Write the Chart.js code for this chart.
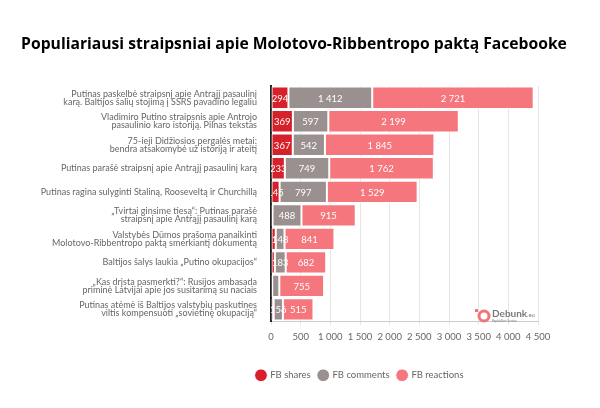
<!DOCTYPE html>
<html>
<head>
<meta charset="utf-8">
<script src="https://cdn.jsdelivr.net/npm/chart.js@4/dist/chart.umd.min.js"></script>
<style>
  html, body { margin: 0; padding: 0; background: #fff; }
  #wrap { width: 600px; height: 408px; position: relative; }
</style>
</head>
<body>
<div id="wrap"><canvas id="myChart" width="600" height="408"></canvas></div>
<script>
const chartTitle = "Populiariausi straipsniai apie Molotovo-Ribbentropo paktą Facebooke";
const articles = [
  ["Putinas paskelbė straipsnį apie Antrąjį pasaulinį", "karą. Baltijos šalių stojimą į SSRS pavadino legaliu"],
  ["Vladimiro Putino straipsnis apie Antrojo", "pasaulinio karo istoriją. Pilnas tekstas"],
  ["75-ieji Didžiosios pergalės metai:", "bendra atsakomybė už istoriją ir ateitį"],
  "Putinas parašė straipsnį apie Antrąjį pasaulinį karą",
  "Putinas ragina sulyginti Staliną, Rooseveltą ir Churchillą",
  ["„Tvirtai ginsime tiesą“: Putinas parašė", "straipsnį apie Antrąjį pasaulinį karą"],
  ["Valstybės Dūmos prašoma panaikinti", "Molotovo-Ribbentropo paktą smerkiantį dokumentą"],
  "Baltijos šalys laukia „Putino okupacijos“",
  ["„Kas drįsta pasmerkti?“: Rusijos ambasada", "priminė Latvijai apie jos susitarimą su naciais"],
  ["Putinas atėmė iš Baltijos valstybių paskutines", "viltis kompensuoti „sovietinę okupaciją“"]
];
const fbShares = [294, 369, 367, 233, 145, 25, 80, 65, 20, 45];
const fbComments = [1412, 597, 542, 749, 797, 488, 148, 183, 120, 156];
const fbReactions = [2721, 2199, 1845, 1762, 1529, 915, 841, 682, 755, 515];
const xTicks = [0, 500, 1000, 1500, 2000, 2500, 3000, 3500, 4000, 4500];

const fmt = (v) => String(v).replace(/\B(?=(\d{3})+(?!\d))/g, " ");

// white value labels inside the bar segments
const valueLabels = {
  id: "valueLabels",
  afterDatasetsDraw(chart) {
    const ctx = chart.ctx;
    const area = chart.chartArea;
    ctx.save();
    ctx.beginPath();
    ctx.rect(area.left, area.top, area.right - area.left, area.bottom - area.top);
    ctx.clip();
    ctx.fillStyle = "#fff";
    ctx.font = "9.5px Lato";
    ctx.textAlign = "center";
    ctx.textBaseline = "middle";
    chart.data.datasets.forEach((ds, i) => {
      chart.getDatasetMeta(i).data.forEach((bar, j) => {
        const v = ds.data[j];
        if (v < 140) return;
        const x = (bar.x + bar.base) / 2;
        ctx.fillText(fmt(v), x, bar.y + 1);
      });
    });
    ctx.restore();
  }
};

// title, legend shift and the small logo
const extras = {
  id: "extras",
  beforeDraw(chart) {
    const lg = chart.legend;
    lg.left = 120;
    lg.right = 600;
  },
  afterDraw(chart) {
    const ctx = chart.ctx;
    ctx.save();
    ctx.fillStyle = "#000";
    ctx.font = "bold 17px 'Open Sans'";
    const w = ctx.measureText(chartTitle).width;
    const size = Math.min(17, 17 * 546 / w);
    ctx.font = "bold " + size.toFixed(2) + "px 'Open Sans'";
    ctx.textAlign = "center";
    ctx.textBaseline = "middle";
    ctx.fillText(chartTitle, 294, 45);

    ctx.textAlign = "left";
    ctx.fillStyle = "#f2737a";
    ctx.fillRect(475, 309, 3, 3);
    ctx.beginPath();
    ctx.lineWidth = 3;
    ctx.strokeStyle = "#f2737a";
    ctx.arc(484, 316, 5, 0, Math.PI * 2);
    ctx.stroke();
    ctx.fillStyle = "#7a7a7a";
    ctx.font = "bold 10px Lato";
    ctx.fillText("Debunk", 492, 314);
    ctx.font = "6px Lato";
    ctx.fillText(".eu", 527, 315);
    ctx.font = "3px Lato";
    ctx.fillText("Rapid Alert Service", 492, 321);
    ctx.restore();
  }
};

new Chart(document.getElementById("myChart"), {
  type: "bar",
  data: {
    labels: articles,
    datasets: [
      { label: "FB shares", data: fbShares, backgroundColor: "#d6202a" },
      { label: "FB comments", data: fbComments, backgroundColor: "#9b9090" },
      { label: "FB reactions", data: fbReactions, backgroundColor: "#f5767d" }
    ].map((d) => Object.assign(d, {
      borderColor: "#fff",
      borderWidth: 1,
      borderSkipped: false,
      categoryPercentage: 0.95,
      barPercentage: 1
    }))
  },
  options: {
    indexAxis: "y",
    responsive: false,
    animation: false,
    layout: { padding: { top: 86, right: 62, bottom: 18, left: 0 } },
    scales: {
      x: {
        stacked: true,
        min: 0,
        max: 4500,
        afterBuildTicks: (s) => { s.ticks = xTicks.map((v) => ({ value: v })); },
        afterFit: (s) => { s.height += 14; },
        ticks: {
          color: "#666",
          font: { family: "Lato", size: 9.5 },
          padding: 6,
          maxRotation: 0,
          autoSkip: false,
          callback: (v) => fmt(v)
        },
        grid: { color: "#e6e6e6", tickLength: 4 },
        border: { color: "#ccc" }
      },
      y: {
        stacked: true,
        afterFit: (s) => { s.width = 271; },
        ticks: {
          color: "#666",
          font: { family: "Lato", size: 9, lineHeight: 0.9 },
          padding: 6
        },
        grid: { display: false },
        border: { display: true, color: "#222", width: 2 }
      }
    },
    plugins: {
      title: { display: false },
      legend: {
        position: "bottom",
        labels: {
          usePointStyle: true,
          pointStyle: "circle",
          boxWidth: 9,
          boxHeight: 9,
          padding: 8,
          color: "#666",
          font: { family: "Lato", size: 9.5 }
        }
      },
      tooltip: { enabled: false }
    }
  },
  plugins: [valueLabels, extras]
});
</script>
</body>
</html>
